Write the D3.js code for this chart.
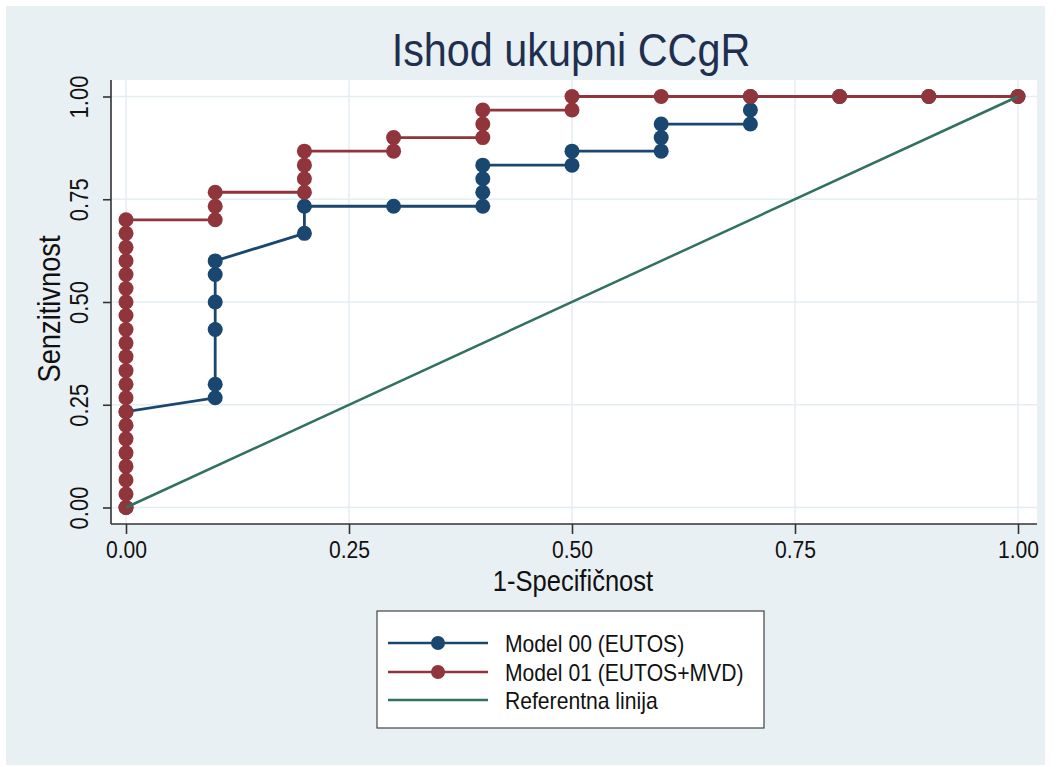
<!DOCTYPE html>
<html>
<head>
<meta charset="utf-8">
<script src="https://cdn.jsdelivr.net/npm/d3@7"></script>
<style>
  html, body { margin: 0; padding: 0; background: #ffffff; }
  svg { display: block; font-family: "Liberation Sans", Arial, sans-serif; }
</style>
</head>
<body>
<svg id="chart" width="1056" height="767"></svg>
<script>
// ROC curve coordinates (1 - specificity, sensitivity)
const model00X = [0, 0, 0.1, 0.1, 0.1, 0.1, 0.1, 0.1, 0.2, 0.2, 0.3, 0.4, 0.4, 0.4, 0.4, 0.5, 0.5, 0.6, 0.6, 0.6, 0.7, 0.7, 0.7, 0.8, 0.9, 1.0];
const model00Y = [0, 0.233, 0.267, 0.3, 0.433, 0.5, 0.567, 0.6, 0.667, 0.733, 0.733, 0.733, 0.767, 0.8, 0.833, 0.833, 0.867, 0.867, 0.9, 0.933, 0.933, 0.967, 1.0, 1.0, 1.0, 1.0];

const model01X = [0, 0, 0, 0, 0, 0, 0, 0, 0, 0, 0, 0, 0, 0, 0, 0, 0, 0, 0, 0, 0, 0,
                  0.1, 0.1, 0.1, 0.2, 0.2, 0.2, 0.2, 0.3, 0.3, 0.4, 0.4, 0.4, 0.5, 0.5, 0.6, 0.7, 0.8, 0.9, 1.0];
const model01Y = [0, 0.033, 0.067, 0.1, 0.133, 0.167, 0.2, 0.233, 0.267, 0.3, 0.333, 0.367, 0.4, 0.433, 0.467, 0.5, 0.533, 0.567, 0.6, 0.633, 0.667, 0.7,
                  0.7, 0.733, 0.767, 0.767, 0.8, 0.833, 0.867, 0.867, 0.9, 0.9, 0.933, 0.967, 0.967, 1.0, 1.0, 1.0, 1.0, 1.0, 1.0];

const referenceX = [0, 1];
const referenceY = [0, 1];

const tickValues = [0, 0.25, 0.5, 0.75, 1];
const tickLabels = ["0.00", "0.25", "0.50", "0.75", "1.00"];

const seriesNames = ["Model 00 (EUTOS)", "Model 01 (EUTOS+MVD)", "Referentna linija"];
const seriesColors = ["#1a476f", "#90353b", "#327060"];

const titleText = "Ishod ukupni CCgR";
const xTitle = "1-Specifičnost";
const yTitle = "Senzitivnost";

// narrow the glyphs horizontally (tall, condensed lettering)
const NARROW = 0.88;
function condense(sel) {
  sel.each(function () {
    const len = this.getComputedTextLength();
    d3.select(this).attr("textLength", len * NARROW).attr("lengthAdjust", "spacingAndGlyphs");
  });
}

const svg = d3.select("#chart");

// outer background panel
svg.append("rect")
  .attr("x", 6).attr("y", 6).attr("width", 1039).attr("height", 759)
  .attr("fill", "#e9f0f3");

// plot region
const plot = { left: 111, right: 1037, top: 80, bottom: 524 };
svg.append("rect")
  .attr("x", plot.left).attr("y", plot.top)
  .attr("width", plot.right - plot.left).attr("height", plot.bottom - plot.top)
  .attr("fill", "#ffffff");

const x = d3.scaleLinear().domain([0, 1]).range([126, 1018]);
const y = d3.scaleLinear().domain([0, 1]).range([507.5, 96.5]);

// grid
const grid = svg.append("g").attr("stroke", "#e4edf0").attr("stroke-width", 1.5);
grid.selectAll("line.h").data(tickValues).join("line")
  .attr("x1", plot.left).attr("x2", plot.right)
  .attr("y1", d => y(d)).attr("y2", d => y(d));
grid.selectAll("line.v").data(tickValues).join("line")
  .attr("y1", plot.top).attr("y2", plot.bottom)
  .attr("x1", d => x(d)).attr("x2", d => x(d));

// axes
const xAxis = d3.axisBottom(x).tickValues(tickValues).tickSize(10)
  .tickFormat((d, i) => tickLabels[i]).tickSizeOuter(0);
const gx = svg.append("g").attr("transform", `translate(0,${plot.bottom})`).call(xAxis);
gx.select(".domain").attr("d", `M${plot.left},0H${plot.right}`);
gx.selectAll("line, path").attr("stroke", "#333").attr("stroke-width", 1.6);
gx.selectAll("text").attr("font-size", 24).attr("fill", "#111").attr("y", 34).attr("dy", null)
  .attr("font-family", "Liberation Sans, Arial, sans-serif")
  .call(condense);

const yAxis = d3.axisLeft(y).tickValues(tickValues).tickSize(8)
  .tickFormat((d, i) => tickLabels[i]).tickSizeOuter(0);
const gy = svg.append("g").attr("transform", `translate(${plot.left},0)`).call(yAxis);
gy.select(".domain").attr("d", `M0,${plot.top}V${plot.bottom}`);
gy.selectAll("line, path").attr("stroke", "#333").attr("stroke-width", 1.6);
gy.selectAll("text")
  .attr("font-size", 25).attr("fill", "#111")
  .attr("font-family", "Liberation Sans, Arial, sans-serif")
  .attr("text-anchor", "middle")
  .attr("x", null).attr("dy", null)
  .attr("transform", "translate(-23,0) rotate(-90)")
  .call(condense);

// series
function toPoints(xs, ys) { return xs.map((v, i) => [v, ys[i]]); }
const line = d3.line().x(d => x(d[0])).y(d => y(d[1]));

const rocSeries = [
  { pts: toPoints(model00X, model00Y), color: seriesColors[0] },
  { pts: toPoints(model01X, model01Y), color: seriesColors[1] }
];

rocSeries.forEach(s => {
  const g = svg.append("g");
  g.append("path").datum(s.pts)
    .attr("d", line).attr("fill", "none")
    .attr("stroke", s.color).attr("stroke-width", 2.8);
  g.selectAll("circle").data(s.pts).join("circle")
    .attr("cx", d => x(d[0])).attr("cy", d => y(d[1]))
    .attr("r", 7.5).attr("fill", s.color);
});

svg.append("path").datum(toPoints(referenceX, referenceY))
  .attr("d", line).attr("fill", "none")
  .attr("stroke", seriesColors[2]).attr("stroke-width", 2.5);

// titles
svg.append("text").attr("x", 571).attr("y", 66)
  .attr("text-anchor", "middle").attr("font-size", 47).attr("fill", "#1e2f50")
  .text(titleText).call(condense);

svg.append("text").attr("x", 573).attr("y", 591)
  .attr("text-anchor", "middle").attr("font-size", 29).attr("fill", "#111")
  .text(xTitle).call(condense);

svg.append("text").attr("transform", "translate(60,309) rotate(-90)")
  .attr("text-anchor", "middle").attr("font-size", 31).attr("fill", "#111")
  .text(yTitle).call(condense);

// legend
const legend = svg.append("g");
legend.append("rect").attr("x", 377).attr("y", 611).attr("width", 387).attr("height", 117)
  .attr("fill", "#ffffff").attr("stroke", "#444").attr("stroke-width", 1.2);
const rowY = [643, 672, 700];
seriesNames.forEach((name, i) => {
  legend.append("line").attr("x1", 388).attr("x2", 488).attr("y1", rowY[i]).attr("y2", rowY[i])
    .attr("stroke", seriesColors[i]).attr("stroke-width", 2.5);
  if (i < 2) {
    legend.append("circle").attr("cx", 438).attr("cy", rowY[i]).attr("r", 7)
      .attr("fill", seriesColors[i]);
  }
  legend.append("text").attr("x", 505).attr("y", rowY[i]).attr("dy", "0.36em")
    .attr("font-size", 24).attr("fill", "#111").text(name).call(condense);
});
</script>
</body>
</html>
